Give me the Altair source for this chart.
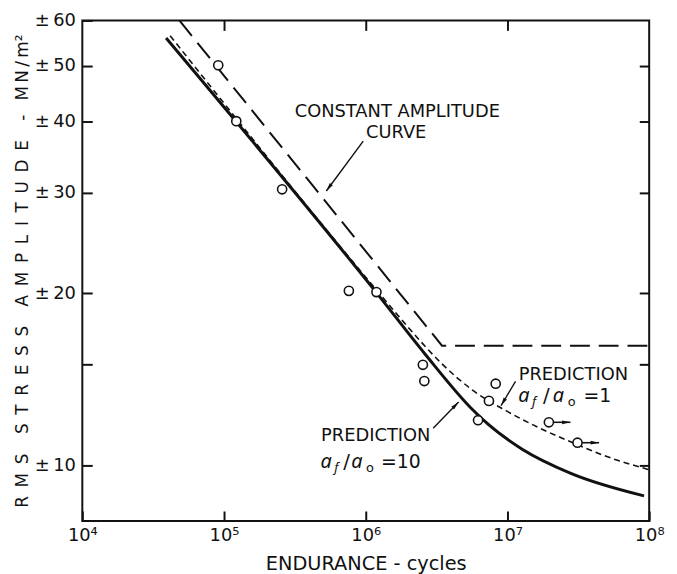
import math
import altair as alt
import pandas as pd

# ---------------- data ----------------
x_tick_values = [1e4, 1e5, 1e6, 1e7, 1e8]
x_tick_labels = ["10⁴", "10⁵", "10⁶", "10⁷", "10⁸"]
y_tick_values = [10, 15, 20, 30, 40, 50, 60]
y_tick_labels = ["±\u200910", "", "±\u200920", "±\u200930", "±\u200940", "±\u200950", "±\u200960"]
top_tick_values = [1e5, 1e6, 1e7]
right_tick_values = [10, 15, 20, 30, 40, 50]

# test results (open circles); last two are run-outs
test_cycles = [9.1e4, 1.22e5, 2.57e5, 7.6e5, 1.19e6, 2.53e6, 2.59e6, 8.26e6, 7.4e6, 6.2e6, 1.96e7, 3.12e7]
test_stress = [50.1, 40.0, 30.4, 20.2, 20.1, 15.0, 14.05, 13.9, 12.97, 12.0, 11.9, 10.96]
test_runout = [False, False, False, False, False, False, False, False, False, False, True, True]

# constant amplitude curve (long dashes)
const_cycles = [4.84e4, 3.45e6, 1e8]
const_stress = [60, 16.2, 16.2]

# prediction af/ao = 10 (thick solid)
pred10_cycles = [3.9e4, 1.2e6, 2.6e6, 5.73e6, 7.26e6, 1.27e7, 2.8e7, 9.2e7]
pred10_stress = [55.9, 20.0, 15.7, 12.49, 11.82, 10.68, 9.69, 8.85]

# prediction af/ao = 1 (short dashes)
pred1_cycles = [4.17e4, 1.29e6, 2.01e6, 3.41e6, 5.77e6, 9.75e6, 1.67e7, 3.16e7, 4.8e7, 9.87e7]
pred1_stress = [56.4, 19.8, 17.4, 15.1, 13.5, 12.47, 11.64, 10.86, 10.41, 9.84]

# annotations
ann_text = ["CONSTANT AMPLITUDE", "CURVE", "PREDICTION", "PREDICTION"]
ann_cycles = [1.67e6, 1.64e6, 1.2e7, 4.84e5]
ann_stress = [41.5, 38.2, 14.4, 11.25]
ann_align = ["center", "center", "left", "left"]

ratio_cycles = [1.19e7, 4.79e5]
ratio_stress = [13.2, 10.15]
ratio_value = ["=1", "=10"]

lead_x1 = [9.6e5, 1.14e7, 2.99e6]
lead_y1 = [36.9, 14.03, 11.62]
lead_x2 = [5.27e5, 9.0e6, 4.52e6]
lead_y2 = [30.2, 12.72, 12.91]

# ---------------- layout / style ----------------
W, H = 572, 505
XD = [1e4, 1e8]
YD = [8, 60]
FONT = "DejaVu Sans"
BLACK = "#111111"
xs = alt.Scale(type="log", domain=XD, nice=False)
ys = alt.Scale(type="log", domain=YD, nice=False)
ARROW = "M0,0L0.38,1.7L-0.38,1.7Z"

NB = "\u00a0"
TH = "\u2009"


def spaced(words):
    gap = NB + TH
    wgap = NB + NB + TH + NB
    return wgap.join(gap.join(list(w)) for w in words)


Y_TITLE = spaced(["RMS", "STRESS", "AMPLITUDE", "-"]) + NB + TH + NB + TH.join(["M", "N", "/", "m²"])


def to_px(x, y):
    px = W * (math.log10(x) - math.log10(XD[0])) / (math.log10(XD[1]) - math.log10(XD[0]))
    py = H * (math.log10(YD[1]) - math.log10(y)) / (math.log10(YD[1]) - math.log10(YD[0]))
    return px, py


def head_angle(x1, y1, x2, y2):
    a1, b1 = to_px(x1, y1)
    a2, b2 = to_px(x2, y2)
    return math.degrees(math.atan2(a2 - a1, -(b2 - b1))) % 360


def lab_expr(values, labels):
    parts = [f"datum.value == {repr(float(v))} ? '{l}'" for v, l in zip(values, labels)]
    return " : ".join(parts) + " : ''"


NOAX = dict(axis=None)

x_axis_bottom = alt.Axis(
    orient="bottom", values=x_tick_values, labelExpr=lab_expr(x_tick_values, x_tick_labels),
    offset=-10, tickSize=10, tickWidth=2, tickColor=BLACK, domain=False, grid=False,
    labelPadding=6, labelFontSize=18, labelFont=FONT, labelColor=BLACK,
    labelFlush=False, labelOverlap=False,
    title="ENDURANCE - cycles", titleFont=FONT, titleFontSize=19.5, titleFontWeight="normal",
    titleColor=BLACK, titlePadding=10,
)
y_axis_left = alt.Axis(
    orient="left", values=y_tick_values, labelExpr=lab_expr(y_tick_values, y_tick_labels),
    offset=-10, tickSize=10, tickWidth=2, tickColor=BLACK, domain=False, grid=False,
    labelPadding=7, labelFontSize=18, labelFont=FONT, labelColor=BLACK,
    labelFlush=False, labelOverlap=False,
    title=Y_TITLE, titleFont=FONT,
    titleFontSize=17, titleFontWeight="normal", titleColor=BLACK, titlePadding=3,
)
x_axis_top = alt.Axis(
    orient="top", values=top_tick_values, labels=False, offset=-10, tickSize=10,
    tickWidth=2, tickColor=BLACK, domain=False, grid=False, title=None,
)
y_axis_right = alt.Axis(
    orient="right", values=right_tick_values, labels=False, offset=-10, tickSize=10,
    tickWidth=2, tickColor=BLACK, domain=False, grid=False, title=None,
)

# ---------------- layers ----------------
const_df = pd.DataFrame({"cycles": const_cycles, "stress": const_stress})
const_layer = alt.Chart(const_df).mark_line(
    color=BLACK, strokeWidth=2, strokeDash=[20, 9]
).encode(
    x=alt.X("cycles:Q", scale=xs, axis=x_axis_bottom),
    y=alt.Y("stress:Q", scale=ys, axis=y_axis_left),
)

p10_df = pd.DataFrame({"cycles": pred10_cycles, "stress": pred10_stress})
p10_layer = alt.Chart(p10_df).mark_line(
    color=BLACK, strokeWidth=3, interpolate="monotone"
).encode(
    x=alt.X("cycles:Q", scale=xs, **NOAX),
    y=alt.Y("stress:Q", scale=ys, **NOAX),
)

p1_df = pd.DataFrame({"cycles": pred1_cycles, "stress": pred1_stress})
p1_layer = alt.Chart(p1_df).mark_line(
    color=BLACK, strokeWidth=1.6, strokeDash=[6, 4], interpolate="monotone"
).encode(
    x=alt.X("cycles:Q", scale=xs, **NOAX),
    y=alt.Y("stress:Q", scale=ys, **NOAX),
)

# run-out arrows
run_c = [c for c, r in zip(test_cycles, test_runout) if r]
run_s = [s for s, r in zip(test_stress, test_runout) if r]
run_df = pd.DataFrame({
    "x1": [c * 1.08 for c in run_c],
    "x2": [c * 1.42 for c in run_c],
    "stress": run_s,
})
run_rule = alt.Chart(run_df).mark_rule(color=BLACK, strokeWidth=1.6).encode(
    x=alt.X("x1:Q", scale=xs, **NOAX), x2="x2:Q",
    y=alt.Y("stress:Q", scale=ys, **NOAX),
)
run_head = alt.Chart(run_df).mark_point(
    shape=ARROW, filled=True, color=BLACK, size=100, angle=90, opacity=1
).encode(
    x=alt.X("x2:Q", scale=xs, **NOAX),
    y=alt.Y("stress:Q", scale=ys, **NOAX),
)

pts_df = pd.DataFrame({"cycles": test_cycles, "stress": test_stress})
pts_layer = alt.Chart(pts_df).mark_point(
    shape="circle", size=85, filled=False, fill="white", fillOpacity=1,
    stroke=BLACK, strokeWidth=1.6, opacity=1
).encode(
    x=alt.X("cycles:Q", scale=xs, axis=x_axis_top),
    y=alt.Y("stress:Q", scale=ys, axis=y_axis_right),
)

# leader arrows
lead_df = pd.DataFrame({
    "x1": lead_x1, "y1": lead_y1, "x2": lead_x2, "y2": lead_y2,
    "ang": [head_angle(a, b, c, d) for a, b, c, d in zip(lead_x1, lead_y1, lead_x2, lead_y2)],
})
lead_rule = alt.Chart(lead_df).mark_rule(color=BLACK, strokeWidth=1.4).encode(
    x=alt.X("x1:Q", scale=xs, **NOAX), x2="x2:Q",
    y=alt.Y("y1:Q", scale=ys, **NOAX), y2="y2:Q",
)
lead_head = alt.Chart(lead_df).mark_point(
    shape=ARROW, filled=True, color=BLACK, size=100, opacity=1
).encode(
    x=alt.X("x2:Q", scale=xs, **NOAX),
    y=alt.Y("y2:Q", scale=ys, **NOAX),
    angle=alt.Angle("ang:Q", scale=None),
)

text_layers = []
for t, cx, cy, al in zip(ann_text, ann_cycles, ann_stress, ann_align):
    df = pd.DataFrame({"cycles": [cx], "stress": [cy], "label": [t]})
    text_layers.append(
        alt.Chart(df).mark_text(
            font=FONT, fontSize=18, align=al, baseline="middle", color=BLACK
        ).encode(
            x=alt.X("cycles:Q", scale=xs, **NOAX),
            y=alt.Y("stress:Q", scale=ys, **NOAX),
            text="label:N",
        )
    )

# ratio labels a_f / a_o = ...
piece_offsets = [
    [("a", 0, 0, 20, "italic"), ("f", 14, 6, 13, "italic"), ("/", 25, 0, 20, "normal"),
     ("a", 35, 0, 20, "italic"), ("o", 50, 6, 13, "normal"), (None, 66, 0, 19, "normal")],
    [("a", 0, 0, 20, "italic"), ("f", 14, 6, 13, "italic"), ("/", 23, 0, 20, "normal"),
     ("a", 31, 0, 20, "italic"), ("o", 46, 6, 13, "normal"), (None, 61, 0, 19, "normal")],
]
for cx, cy, val, pieces in zip(ratio_cycles, ratio_stress, ratio_value, piece_offsets):
    for txt, dx, dy, fs, style in pieces:
        label = val if txt is None else txt
        df = pd.DataFrame({"cycles": [cx], "stress": [cy], "label": [label]})
        text_layers.append(
            alt.Chart(df).mark_text(
                font="Noto Sans" if style == "italic" else FONT, fontStyle=style,
                fontSize=fs, align="left", baseline="middle", dx=dx, dy=dy, color=BLACK
            ).encode(
                x=alt.X("cycles:Q", scale=xs, **NOAX),
                y=alt.Y("stress:Q", scale=ys, **NOAX),
                text="label:N",
            )
        )

chart = alt.layer(
    const_layer, p10_layer, p1_layer, run_rule, run_head, lead_rule, lead_head,
    pts_layer, *text_layers
).resolve_axis(
    x="independent", y="independent"
).properties(
    width=W, height=H,
    autosize=alt.AutoSizeParams(type="none"),
    padding={"left": 75, "top": 10, "right": 20, "bottom": 51},
    background="white",
).configure_view(
    stroke=BLACK, strokeWidth=2
)

chart.save("out.html", embed_options={"renderer": "svg", "actions": False})
